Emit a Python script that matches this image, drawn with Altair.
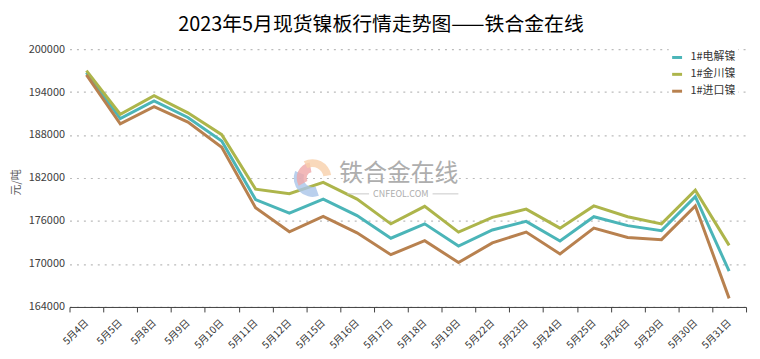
import altair as alt
import pandas as pd

dates = ["5月4日", "5月5日", "5月8日", "5月9日", "5月10日", "5月11日", "5月12日",
         "5月15日", "5月16日", "5月17日", "5月18日", "5月19日", "5月22日", "5月23日",
         "5月24日", "5月25日", "5月26日", "5月29日", "5月30日", "5月31日"]
series_names = ["1#电解镍", "1#金川镍", "1#进口镍"]
dianjie = [196700, 190300, 192750, 190450, 187150, 179000, 177100, 179050, 176750, 173600,
           175600, 172500, 174750, 175950, 173200, 176600, 175350, 174650, 179400, 169000]
jinchuan = [197000, 190900, 193500, 191100, 188050, 180450, 179800, 181400, 179050, 175600,
            178050, 174450, 176500, 177650, 175000, 178100, 176600, 175600, 180300, 172600]
jinkou = [196400, 189550, 191950, 189800, 186300, 177850, 174500, 176650, 174350, 171300,
          173250, 170200, 172950, 174450, 171400, 175000, 173700, 173400, 178100, 165200]
y_ticks = [164000, 170000, 176000, 182000, 188000, 194000, 200000]
colors = ["#4BB5B8", "#ADB54B", "#B8814F"]

rows = []
for name, vals in zip(series_names, [dianjie, jinchuan, jinkou]):
    for d, v in zip(dates, vals):
        rows.append({"date": d, "series": name, "value": v})
df = pd.DataFrame(rows)

FONT = "Noto Sans CJK SC"

lines = alt.Chart(df).mark_line(strokeWidth=3).encode(
    x=alt.X("date:N", sort=dates, bandPosition=0.5,
            scale=alt.Scale(type="band", paddingInner=0, paddingOuter=0),
            axis=alt.Axis(title=None, labelAngle=-45, labelAlign="right", labelBaseline="middle",
                          tickBand="extent", tickSize=5, tickColor="#404040",
                          domainColor="#404040", labelFont=FONT, labelFontSize=10,
                          labelColor="#333333", labelPadding=9, grid=False)),
    y=alt.Y("value:Q", scale=alt.Scale(domain=[164000, 200000], nice=False, zero=False),
            axis=alt.Axis(values=y_ticks, format="d", title="元/吨", titleAngle=-90,
                          titleX=-53, titleY=134, titleAlign="center", titleBaseline="middle",
                          titleFont=FONT, titleFontSize=11, titleFontWeight="normal",
                          titleColor="#595959", domain=False, ticks=False,
                          gridDash=[2, 5], gridColor="#BBBBBB", gridWidth=1.2,
                          labelPadding=5, labelFont=FONT, labelFontSize=11,
                          labelColor="#404040")),
    color=alt.Color("series:N", scale=alt.Scale(domain=series_names, range=colors),
                    legend=alt.Legend(title=None, orient="none", legendX=604, legendY=0,
                                      fillColor="white", padding=2, symbolType="stroke",
                                      symbolStrokeWidth=3, symbolSize=100, labelFont=FONT,
                                      labelFontSize=11, labelColor="#333333",
                                      rowPadding=4, labelOffset=7)),
)

wm_text = alt.Chart(pd.DataFrame({"t": ["铁合金在线"]})).mark_text(
    font=FONT, fontSize=24, color="#A0A0A0", opacity=0.85
).encode(text="t:N", x=alt.value(332), y=alt.value(126))

wm_sub = alt.Chart(pd.DataFrame({"t": ["CNFEOL.COM"]})).mark_text(
    font=FONT, fontSize=9, color="#A0A0A0", opacity=0.85
).encode(text="t:N", x=alt.value(334), y=alt.value(146))

wm_rule1 = alt.Chart(pd.DataFrame({"a": [0]})).mark_rule(color="#C8C8C8").encode(
    x=alt.value(280), x2=alt.value(302), y=alt.value(146))
wm_rule2 = alt.Chart(pd.DataFrame({"a": [0]})).mark_rule(color="#C8C8C8").encode(
    x=alt.value(366), x2=alt.value(392), y=alt.value(146))

arc_blue = alt.Chart(pd.DataFrame({"a": [0]})).mark_arc(
    theta=2.8, theta2=5.1, radius=19, radius2=9, color="#A9C4E8", opacity=0.8
).encode(x=alt.value(245), y=alt.value(130))
arc_pink = alt.Chart(pd.DataFrame({"a": [0]})).mark_arc(
    theta=4.2, theta2=6.1, radius=16, radius2=6, color="#EFA8A8", opacity=0.8
).encode(x=alt.value(245), y=alt.value(130))
arc_peach = alt.Chart(pd.DataFrame({"a": [0]})).mark_arc(
    theta=5.8, theta2=7.7, radius=19, radius2=11, color="#F7CFAA", opacity=0.8
).encode(x=alt.value(245), y=alt.value(130))

chart = alt.layer(lines, arc_blue, arc_pink, arc_peach, wm_text, wm_sub, wm_rule1, wm_rule2).properties(
    width=682, height=260,
    padding={"left": 62, "top": 40, "right": 6, "bottom": 43},
    autosize=alt.AutoSizeParams(type="none"),
    title=alt.TitleParams("2023年5月现货镍板行情走势图——铁合金在线", font=FONT, fontSize=20,
                          fontWeight="normal", color="#000000", anchor="middle",
                          frame="group", offset=8, dx=-27),
    background="white",
).configure_view(stroke=None)

chart.save("out.html", embed_options={"renderer": "svg", "actions": False})
